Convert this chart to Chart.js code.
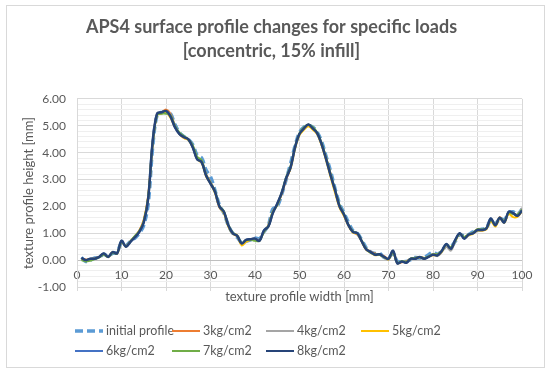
<!DOCTYPE html>
<html>
<head>
<meta charset="utf-8">
<script src="https://cdn.jsdelivr.net/npm/chart.js@4.4.0/dist/chart.umd.min.js"></script>
<style>
  body { margin: 0; background: #fff; }
  #wrap { position: relative; width: 550px; height: 373px; }
  #frame { position: absolute; left: 6px; top: 5px; width: 537px; height: 361px; border: 1px solid #d9d9d9; }
  canvas { position: absolute; left: 0; top: 0; }
  .leg { position: absolute; font: 12.5px Lato, sans-serif; color: #595959; white-space: nowrap; line-height: 16px; }
  .leg svg { vertical-align: middle; margin-right: 3px; position: relative; top: -1px; }
</style>
</head>
<body>
<div id="wrap">
  <div id="frame"></div>
  <canvas id="profileChart" width="550" height="373"></canvas>
  <div id="legend"></div>
</div>
<script>
// texture profile width [mm]
const widths = [1,2,3,4,5,6,7,8,9,10,11,12,13,14,15,16,17,18,19,20,21,22,23,24,25,26,27,28,29,30,31,32,33,34,35,36,37,38,39,40,41,42,43,44,45,46,47,48,49,50,51,52,53,54,55,56,57,58,59,60,61,62,63,64,65,66,67,68,69,70,71,72,73,74,75,76,77,78,79,80,81,82,83,84,85,86,87,88,89,90,91,92,93,94,95,96,97,98,99,100];

// texture profile height [mm], one list per load
const initialProfile = [0.10,-0.05,0.00,0.08,0.10,0.22,0.15,0.25,0.30,0.65,0.55,0.70,0.82,1.00,1.30,2.10,4.20,5.40,5.50,5.50,5.45,5.05,4.75,4.60,4.50,4.30,3.90,3.80,3.35,3.10,2.60,2.05,1.75,1.30,1.00,0.85,0.65,0.70,0.75,0.82,0.80,1.05,1.30,1.90,2.00,2.45,3.00,3.60,4.25,4.75,4.95,5.00,4.95,4.75,4.40,3.85,3.30,2.65,2.10,1.75,1.40,1.10,1.00,0.75,0.45,0.30,0.25,0.25,0.10,0.08,0.25,-0.05,-0.05,-0.05,0.02,0.10,0.08,0.10,0.20,0.30,0.22,0.35,0.55,0.50,0.70,0.95,0.90,0.95,1.05,1.10,1.15,1.20,1.50,1.35,1.55,1.50,1.75,1.80,1.70,1.90];
const load3 = [0.05,0.02,0.00,0.06,0.12,0.22,0.12,0.28,0.25,0.68,0.52,0.70,0.88,1.10,1.50,2.40,4.40,5.45,5.50,5.60,5.45,5.00,4.70,4.55,4.50,4.25,3.80,3.70,3.20,2.90,2.55,1.95,1.80,1.30,1.00,0.92,0.60,0.72,0.78,0.78,0.75,1.05,1.30,1.80,2.05,2.45,3.00,3.45,4.20,4.70,4.88,5.00,4.88,4.70,4.30,3.80,3.20,2.55,2.00,1.65,1.30,1.05,0.95,0.70,0.42,0.32,0.25,0.20,0.15,0.05,0.30,-0.10,-0.08,-0.05,0.05,0.08,0.12,0.08,0.12,0.22,0.20,0.35,0.55,0.45,0.72,0.98,0.85,0.95,1.00,1.15,1.10,1.20,1.50,1.30,1.60,1.42,1.75,1.75,1.62,1.85];
const load4 = [0.06,0.00,0.05,0.05,0.10,0.24,0.14,0.28,0.26,0.70,0.50,0.68,0.86,1.05,1.42,2.30,4.35,5.45,5.50,5.55,5.40,4.98,4.70,4.58,4.50,4.22,3.78,3.68,3.15,2.88,2.55,2.00,1.78,1.28,1.02,0.90,0.62,0.74,0.78,0.80,0.74,1.08,1.25,1.78,2.08,2.48,3.02,3.45,4.18,4.68,4.90,5.02,4.90,4.70,4.28,3.75,3.15,2.58,2.02,1.68,1.30,1.05,0.98,0.70,0.40,0.30,0.22,0.22,0.10,0.02,0.32,-0.12,-0.05,-0.10,0.05,0.04,0.10,0.06,0.14,0.20,0.15,0.30,0.50,0.35,0.70,0.98,0.82,0.95,1.02,1.12,1.12,1.18,1.52,1.30,1.56,1.45,1.78,1.72,1.68,1.95];
const load5 = [0.04,0.00,0.04,0.06,0.12,0.24,0.12,0.30,0.24,0.70,0.50,0.70,0.88,1.08,1.45,2.35,4.30,5.40,5.45,5.50,5.30,4.95,4.72,4.55,4.48,4.20,3.75,3.62,3.12,2.85,2.50,1.98,1.75,1.25,0.98,0.88,0.55,0.68,0.75,0.78,0.72,1.08,1.25,1.75,2.08,2.50,3.05,3.40,4.15,4.65,4.85,4.98,4.85,4.68,4.25,3.70,3.08,2.50,1.95,1.65,1.28,1.02,0.98,0.68,0.38,0.28,0.18,0.20,0.10,0.03,0.30,-0.12,-0.06,-0.08,0.04,0.06,0.10,0.05,0.12,0.18,0.18,0.32,0.58,0.42,0.72,0.98,0.82,0.92,0.98,1.10,1.10,1.15,1.45,1.25,1.55,1.38,1.72,1.60,1.62,1.82];
const load6 = [0.08,0.00,0.05,0.05,0.12,0.25,0.12,0.30,0.25,0.72,0.50,0.68,0.85,1.05,1.40,2.30,4.40,5.45,5.50,5.55,5.35,4.95,4.70,4.58,4.50,4.20,3.75,3.65,3.15,2.85,2.55,2.00,1.80,1.30,1.00,0.90,0.62,0.75,0.78,0.80,0.72,1.10,1.25,1.75,2.10,2.50,3.05,3.45,4.20,4.70,4.90,5.05,4.90,4.72,4.30,3.75,3.15,2.60,2.00,1.70,1.30,1.05,1.00,0.70,0.40,0.30,0.20,0.22,0.12,0.05,0.35,-0.12,-0.05,-0.10,0.05,0.05,0.12,0.05,0.12,0.20,0.18,0.35,0.60,0.42,0.75,1.00,0.80,0.95,1.00,1.12,1.12,1.18,1.55,1.30,1.58,1.40,1.80,1.75,1.65,1.85];
const load7 = [0.00,-0.05,-0.02,0.04,0.10,0.20,0.12,0.26,0.25,0.68,0.52,0.70,0.90,1.08,1.45,2.35,4.35,5.40,5.45,5.45,5.40,5.00,4.75,4.62,4.50,4.28,3.85,3.72,3.18,2.88,2.58,2.02,1.82,1.32,1.02,0.92,0.64,0.74,0.76,0.72,0.72,1.05,1.28,1.80,2.05,2.50,3.08,3.50,4.22,4.72,4.95,5.05,4.95,4.74,4.35,3.80,3.20,2.62,2.05,1.72,1.32,1.08,1.00,0.72,0.42,0.28,0.22,0.20,0.12,0.05,0.28,-0.10,-0.04,-0.06,0.06,0.08,0.12,0.08,0.14,0.22,0.22,0.35,0.58,0.48,0.72,0.98,0.86,0.96,1.02,1.15,1.14,1.20,1.50,1.32,1.58,1.45,1.76,1.72,1.70,1.88];
const load8 = [0.08,0.00,0.05,0.05,0.12,0.25,0.12,0.30,0.25,0.72,0.50,0.68,0.85,1.05,1.40,2.30,4.40,5.45,5.50,5.55,5.35,4.95,4.70,4.58,4.50,4.20,3.75,3.65,3.15,2.85,2.55,2.00,1.80,1.30,1.00,0.90,0.62,0.75,0.78,0.80,0.72,1.10,1.25,1.75,2.10,2.50,3.05,3.45,4.20,4.70,4.90,5.05,4.90,4.72,4.30,3.75,3.15,2.60,2.00,1.70,1.30,1.05,1.00,0.70,0.40,0.30,0.20,0.22,0.12,0.05,0.35,-0.12,-0.05,-0.10,0.05,0.05,0.12,0.05,0.12,0.20,0.18,0.35,0.60,0.42,0.75,1.00,0.80,0.95,1.00,1.12,1.12,1.18,1.55,1.30,1.58,1.40,1.80,1.75,1.65,1.85];

const seriesNames = ['initial profile', '3kg/cm2', '4kg/cm2', '5kg/cm2', '6kg/cm2', '7kg/cm2', '8kg/cm2'];
const seriesValues = [initialProfile, load3, load4, load5, load6, load7, load8];
const seriesColors = ['#5B9BD5', '#ED7D31', '#A5A5A5', '#FFC000', '#4472C4', '#70AD47', '#264478'];

const textColor = '#595959';
const font = 'Lato, sans-serif';

const datasets = seriesValues.map((vals, i) => ({
  label: seriesNames[i],
  data: vals.map((v, j) => ({ x: widths[j], y: v })),
  borderColor: seriesColors[i],
  borderWidth: i === 0 ? 3.5 : (i === 6 ? 2.5 : 2),
  borderDash: i === 0 ? [7, 4] : [],
  pointRadius: 0,
  tension: 0.35,
  fill: false,
  order: seriesValues.length - 1 - i
}));

new Chart(document.getElementById('profileChart'), {
  type: 'line',
  data: { datasets: datasets },
  options: {
    responsive: false,
    animation: false,
    layout: { padding: { left: 21, right: 28, top: 8, bottom: 68 } },
    plugins: {
      legend: { display: false },
      tooltip: { enabled: false },
      title: {
        display: true,
        text: ['APS4 surface profile changes for specific loads', '[concentric, 15% infill]'],
        color: textColor,
        font: { family: font, size: 18, weight: 'bold', lineHeight: 1.33 },
        padding: { top: 7, bottom: 36 }
      }
    },
    scales: {
      // horizontal axis crosses at height 0, labels sit just under it
      x: {
        type: 'linear', min: 0, max: 100,
        position: { y: 0 },
        ticks: { stepSize: 10, color: textColor, font: { family: font, size: 12 }, padding: 8, maxRotation: 0 },
        grid: { color: '#d9d9d9', drawTicks: false },
        border: { display: false }
      },
      // bottom edge: only the axis title and small tick marks
      xTitle: {
        type: 'linear', min: 0, max: 100, position: 'bottom',
        ticks: { stepSize: 10, display: false },
        grid: { drawOnChartArea: false, color: '#d9d9d9', tickLength: 4 },
        border: { color: '#d9d9d9' },
        title: { display: true, text: 'texture profile width [mm]', color: textColor, font: { family: font, size: 13 }, padding: 0 },
        afterFit: s => { s.height = 18; }
      },
      y: {
        min: -1, max: 6,
        ticks: {
          stepSize: 0.2, autoSkip: false, color: textColor, font: { family: font, size: 12 }, padding: 11,
          callback: v => Math.abs(v - Math.round(v)) < 1e-6 ? Math.round(v).toFixed(2) : ''
        },
        grid: {
          drawTicks: false,
          color: c => {
            const v = c.tick.value;
            if (Math.abs(v) < 1e-6) return '#bfbfbf';
            return Math.abs(v - Math.round(v)) < 1e-6 ? '#d9d9d9' : '#efefef';
          }
        },
        border: { color: '#d9d9d9' },
        title: { display: true, text: 'texture profile height [mm]', color: textColor, font: { family: font, size: 13 }, padding: 0 },
        afterFit: s => { s.width = 56; }
      }
    }
  }
});

// legend laid out in Excel-like columns
const legendSlots = [[75, 331], [172, 331], [266, 331], [361, 331], [75, 351], [172, 351], [266, 351]];
const legendEl = document.getElementById('legend');
seriesNames.forEach((name, i) => {
  const d = document.createElement('div');
  d.className = 'leg';
  d.style.left = legendSlots[i][0] + 'px';
  d.style.top = (legendSlots[i][1] - 8) + 'px';
  const dash = i === 0 ? 'stroke-dasharray="8,4"' : '';
  const w = i === 0 ? 3.5 : 2;
  d.innerHTML = '<svg width="28" height="6"><line x1="0" y1="3" x2="28" y2="3" stroke="' + seriesColors[i] + '" stroke-width="' + w + '" ' + dash + '/></svg>' + name;
  legendEl.appendChild(d);
});
</script>
</body>
</html>
